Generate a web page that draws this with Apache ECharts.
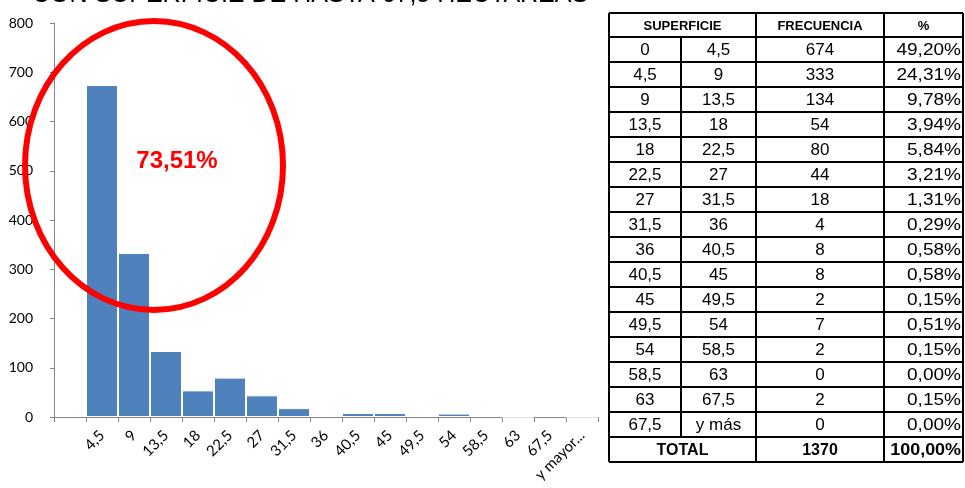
<!DOCTYPE html>
<html>
<head>
<meta charset="utf-8">
<script src="https://cdn.jsdelivr.net/npm/echarts@6/dist/echarts.min.js"></script>
<style>html,body{margin:0;padding:0;background:#fff;}#c{width:965px;height:488px;}</style>
</head>
<body>
<div id="c"></div>
<script>
// ---- data ----
const titleText = 'CON SUPERFICIE DE HASTA 67,5 HECTAREAS';
const categories = ['', '4,5', '9', '13,5', '18', '22,5', '27', '31,5', '36', '40,5', '45', '49,5', '54', '58,5', '63', '67,5', 'y mayor...'];
const frequencies = [null, 674, 333, 134, 54, 80, 44, 18, 4, 8, 8, 2, 7, 2, 0, 2, 0];
const yTicks = [0, 100, 200, 300, 400, 500, 600, 700, 800];
const annotation = '73,51%';

const tableHeader = ['SUPERFICIE', 'FRECUENCIA', '%'];
const binFrom = ['0', '4,5', '9', '13,5', '18', '22,5', '27', '31,5', '36', '40,5', '45', '49,5', '54', '58,5', '63', '67,5'];
const binTo = ['4,5', '9', '13,5', '18', '22,5', '27', '31,5', '36', '40,5', '45', '49,5', '54', '58,5', '63', '67,5', 'y más'];
const tableFreq = ['674', '333', '134', '54', '80', '44', '18', '4', '8', '8', '2', '7', '2', '0', '2', '0'];
const tablePct = ['49,20%', '24,31%', '9,78%', '3,94%', '5,84%', '3,21%', '1,31%', '0,29%', '0,58%', '0,58%', '0,15%', '0,51%', '0,15%', '0,00%', '0,15%', '0,00%'];
const totalRow = ['TOTAL', '1370', '100,00%'];

// ---- layout ----
const FONT = '"Liberation Sans", Arial, sans-serif';
const colX = [609, 681, 756, 884, 963];
const tTop = 13, headH = 24, rowH = 25;
const nRows = binFrom.length;
const tBottom = tTop + headH + rowH * (nRows + 1);

const graphics = [];
graphics.push({
  type: 'text', left: 32, top: -17,
  style: { text: titleText, font: '25px ' + FONT, fill: '#000' }
});
graphics.push({
  type: 'ellipse', shape: { cx: 154, cy: 165.5, rx: 129, ry: 144.5 },
  style: { fill: 'none', stroke: '#ff0000', lineWidth: 6 }, z: 10
});
graphics.push({
  type: 'text', x: 177, y: 161,
  style: { text: annotation, font: 'bold 24px ' + FONT, fill: '#ff0000', align: 'center', verticalAlign: 'middle' }, z: 11
});

function line(x1, y1, x2, y2) {
  graphics.push({ type: 'line', shape: { x1, y1, x2, y2 }, style: { stroke: '#000', lineWidth: 2 }, z: 5 });
}
function cellText(t, x, y, bold, size, align, sx) {
  graphics.push({
    type: 'text', x, y, scaleX: sx || 1,
    style: { text: t, font: (bold ? 'bold ' : '') + size + 'px ' + FONT, fill: '#000', align: align || 'center', verticalAlign: 'middle' }, z: 6
  });
}
line(colX[0], tTop, colX[4], tTop);
line(colX[0], tTop + headH, colX[4], tTop + headH);
for (let i = 1; i <= nRows; i++) {
  const y = tTop + headH + rowH * i;
  line(colX[0], y, colX[4], y);
}
line(colX[0], tBottom, colX[4], tBottom);
[0, 2, 3, 4].forEach(i => line(colX[i], tTop, colX[i], tBottom));
line(colX[1], tTop + headH, colX[1], tTop + headH + rowH * nRows);

cellText(tableHeader[0], (colX[0] + colX[2]) / 2, tTop + headH / 2 + 1, true, 13);
cellText(tableHeader[1], (colX[2] + colX[3]) / 2, tTop + headH / 2 + 1, true, 13);
cellText(tableHeader[2], (colX[3] + colX[4]) / 2, tTop + headH / 2 + 1, true, 13);
for (let i = 0; i < nRows; i++) {
  const cy = tTop + headH + rowH * i + rowH / 2 + 1;
  cellText(binFrom[i], (colX[0] + colX[1]) / 2, cy, false, 17);
  cellText(binTo[i], (colX[1] + colX[2]) / 2, cy, false, 17);
  cellText(tableFreq[i], (colX[2] + colX[3]) / 2, cy, false, 17);
  cellText(tablePct[i], colX[4] - 2, cy, false, 17, 'right', 1.12);
}
const ty = tTop + headH + rowH * nRows + rowH / 2 + 1;
cellText(totalRow[0], (colX[0] + colX[2]) / 2, ty, true, 16);
cellText(totalRow[1], (colX[2] + colX[3]) / 2, ty, true, 16);
cellText(totalRow[2], colX[4] - 2, ty, true, 16, 'right', 1.12);

const chart = echarts.init(document.getElementById('c'), null, { renderer: 'canvas' });
chart.setOption({
  animation: false,
  backgroundColor: '#fff',
  grid: { left: 54, right: 367, top: 23, bottom: 71, containLabel: false },
  xAxis: {
    type: 'category', data: categories,
    axisLine: { lineStyle: { color: '#868686', width: 1 } },
    axisTick: { show: true, length: 5, lineStyle: { color: '#868686' } },
    axisLabel: { rotate: 45, interval: 0, color: '#000', fontSize: 15, fontFamily: 'Lato, ' + FONT, margin: 16 }
  },
  yAxis: {
    type: 'value', min: yTicks[0], max: yTicks[yTicks.length - 1], interval: 100,
    splitLine: { show: false },
    axisLine: { show: true, lineStyle: { color: '#868686', width: 1 } },
    axisTick: { show: true, length: 4, lineStyle: { color: '#868686' } },
    axisLabel: { color: '#000', fontSize: 14, fontFamily: 'Lato, ' + FONT, margin: 21 }
  },
  series: [{
    type: 'bar', data: frequencies, barCategoryGap: '0%',
    itemStyle: { color: '#4F81BD', borderColor: '#fff', borderWidth: 1 }
  }],
  graphic: graphics
});
</script>
</body>
</html>
